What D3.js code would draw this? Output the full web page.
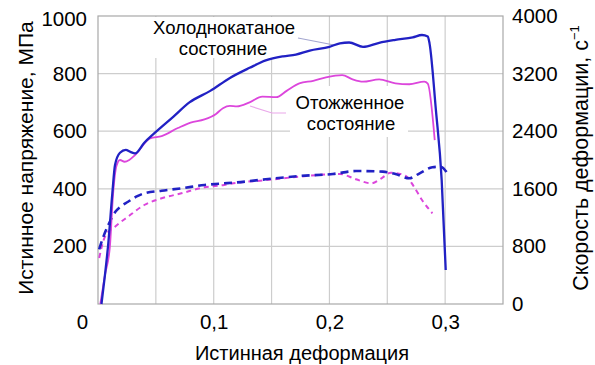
<!DOCTYPE html>
<html><head><meta charset="utf-8">
<script src="https://cdn.jsdelivr.net/npm/d3@7"></script>
<style>
html,body{margin:0;padding:0;background:#fff;}
svg{display:block;}
</style></head>
<body>
<svg id="chart" width="595" height="365"></svg>
<script>
// strain values and true stress (MPa) – cold-rolled state
const coldStress = [
  [0.003,0],[0.006,100],[0.0089,211],[0.0124,385],[0.0147,483],[0.019,525],[0.024,535],[0.028,528],
  [0.032,523],[0.04,560],[0.049,594],[0.065,650],[0.079,700],[0.097,740],[0.114,785],[0.131,820],
  [0.145,846],[0.16,860],[0.171,866],[0.183,880],[0.2,893],[0.209,905],[0.217,908],[0.229,893],
  [0.243,907],[0.257,917],[0.272,926],[0.28,934],[0.285,929],[0.2865,905],[0.292,674],[0.297,431],[0.3005,118]
];
// true stress (MPa) – annealed state
const annealedStress = [
  [0.002,0],[0.006,100],[0.0103,200],[0.013,380],[0.016,480],[0.019,500],[0.023,494],[0.027,500],
  [0.032,517],[0.045,575],[0.055,583],[0.069,611],[0.08,630],[0.092,641],[0.102,660],[0.108,680],
  [0.114,688],[0.12,686],[0.131,700],[0.142,720],[0.154,718],[0.163,740],[0.174,766],[0.186,775],
  [0.197,787],[0.211,795],[0.22,780],[0.229,772],[0.243,780],[0.257,766],[0.269,763],[0.282,772],
  [0.285,765],[0.291,569]
];
// strain rate (1/s) – cold-rolled state
const coldRate = [
  [0.001,760],[0.005,950],[0.009,1100],[0.015,1280],[0.02,1360],[0.026,1420],[0.033,1490],[0.04,1537],
  [0.055,1574],[0.072,1607],[0.092,1653],[0.109,1676],[0.117,1685],[0.145,1732],[0.174,1778],
  [0.203,1806],[0.223,1847],[0.246,1838],[0.257,1806],[0.269,1746],[0.278,1815],[0.289,1899],
  [0.296,1907],[0.302,1815]
];
// strain rate (1/s) – annealed state
const annealedRate = [
  [0.001,640],[0.006,935],[0.0147,1074],[0.026,1213],[0.04,1375],[0.055,1468],[0.072,1537],
  [0.092,1621],[0.109,1653],[0.117,1676],[0.145,1720],[0.174,1769],[0.209,1806],[0.223,1732],
  [0.236,1676],[0.245,1746],[0.253,1824],[0.266,1778],[0.273,1630],[0.280,1445],[0.289,1260]
];
const xTicks = [0, 0.1, 0.2, 0.3];
const xTickLabels = ["0", "0,1", "0,2", "0,3"];
const xGrid = [0.05, 0.1, 0.15, 0.2, 0.25, 0.3];
const yLeftTicks = [200, 400, 600, 800, 1000];
const yRightTicks = [0, 800, 1600, 2400, 3200, 4000];
const yGrid = [200, 400, 600, 800];
const xTitle = "Истинная деформация";
const yLeftTitle = "Истинное напряжение, МПа";
const yRightTitle = "Скорость деформации, с";
const labelCold = ["Холоднокатаное", "состояние"];
const labelAnnealed = ["Отожженное", "состояние"];

const FONT = "Liberation Sans, Arial, sans-serif";
const W = 595, H = 365;
const m = {left: 98, right: 92, top: 16, bottom: 61};
const svg = d3.select("#chart");
const x = d3.scaleLinear().domain([0, 0.35]).range([m.left, W - m.right]);
const yL = d3.scaleLinear().domain([0, 1000]).range([H - m.bottom, m.top]);
const yR = d3.scaleLinear().domain([0, 4000]).range([H - m.bottom, m.top]);

const blue = "#2121c4", pink = "#dc46dc";
const gridCol = "#cdcdcd", borderCol = "#a8a8a8";

svg.append("g").selectAll("line").data(xGrid).join("line")
  .attr("x1", d => x(d)).attr("x2", d => x(d))
  .attr("y1", yL(0)).attr("y2", yL(1000))
  .attr("stroke", gridCol).attr("stroke-width", 1.2);
svg.append("g").selectAll("line").data(yGrid).join("line")
  .attr("x1", x(0)).attr("x2", x(0.35))
  .attr("y1", d => yL(d)).attr("y2", d => yL(d))
  .attr("stroke", gridCol).attr("stroke-width", 1.2);
svg.append("rect").attr("x", x(0)).attr("y", yL(1000))
  .attr("width", x(0.35) - x(0)).attr("height", yL(0) - yL(1000))
  .attr("fill", "none").attr("stroke", borderCol).attr("stroke-width", 1.2);

svg.append("rect").attr("x", 150).attr("y", yL(1000) + 1).attr("width", 148).attr("height", 41).attr("fill", "#fff");
svg.append("rect").attr("x", 290).attr("y", 86).attr("width", 118).attr("height", 51).attr("fill", "#fff");

svg.append("path").attr("d", d3.line()([[298, 38], [334, 45]]))
  .attr("stroke", "#a3a6cf").attr("stroke-width", 1.2).attr("fill", "none");
svg.append("path").attr("d", d3.line()([[250, 106], [272, 113], [286, 113]]))
  .attr("stroke", "#eaa8ea").attr("stroke-width", 1.2).attr("fill", "none");

const lineL = d3.line().x(d => x(d[0])).y(d => yL(d[1])).curve(d3.curveMonotoneX);
const lineR = d3.line().x(d => x(d[0])).y(d => yR(d[1])).curve(d3.curveMonotoneX);
svg.append("path").datum(annealedRate).attr("d", lineR).attr("fill", "none")
  .attr("stroke", pink).attr("stroke-width", 2).attr("stroke-dasharray", "5,4");
svg.append("path").datum(coldRate).attr("d", lineR).attr("fill", "none")
  .attr("stroke", blue).attr("stroke-width", 2.6).attr("stroke-dasharray", "8,5");
svg.append("path").datum(annealedStress).attr("d", lineL).attr("fill", "none")
  .attr("stroke", pink).attr("stroke-width", 1.8);
svg.append("path").datum(coldStress).attr("d", lineL).attr("fill", "none")
  .attr("stroke", blue).attr("stroke-width", 2.3);

const fs = 20.5;
const ax = svg.append("g").attr("transform", `translate(0,${yL(0)})`)
  .call(d3.axisBottom(x).tickValues(xTicks).tickFormat((d, i) => xTickLabels[i]).tickSize(0).tickPadding(10));
const axL = svg.append("g").attr("transform", `translate(${x(0)},0)`)
  .call(d3.axisLeft(yL).tickValues(yLeftTicks).tickFormat(d3.format("d")).tickSize(0).tickPadding(11));
const axR = svg.append("g").attr("transform", `translate(${x(0.35)},0)`)
  .call(d3.axisRight(yR).tickValues(yRightTicks).tickFormat(d3.format("d")).tickSize(0).tickPadding(9));
[ax, axL, axR].forEach(g => {
  g.attr("font-family", FONT).attr("font-size", fs);
  g.select(".domain").remove();
  g.selectAll("text").style("font-family", FONT).attr("font-size", fs).attr("fill", "#000");
});
ax.selectAll(".tick").filter(d => d === 0).select("text").attr("x", -16);
axL.selectAll(".tick").filter(d => d === 1000).select("text").attr("y", 3);

svg.append("text").attr("x", 302).attr("y", 360).attr("text-anchor", "middle")
  .style("font-family", FONT).attr("font-size", 20).text(xTitle);
svg.append("text").attr("transform", `translate(33,158) rotate(-90)`).attr("text-anchor", "middle")
  .style("font-family", FONT).attr("font-size", 21).text(yLeftTitle);
const rt = svg.append("text").attr("transform", `translate(588,158) rotate(-90)`).attr("text-anchor", "middle")
  .style("font-family", FONT).attr("font-size", 21.5);
rt.append("tspan").text(yRightTitle);
rt.append("tspan").attr("font-size", 13).attr("dy", -9).text("−1");

const lfs = 18.5;
const lc = svg.append("text").attr("text-anchor", "middle").style("font-family", FONT).attr("font-size", lfs);
lc.append("tspan").attr("x", 224).attr("y", 34).text(labelCold[0]);
lc.append("tspan").attr("x", 223).attr("y", 55).text(labelCold[1]);
const la = svg.append("text").attr("text-anchor", "middle").style("font-family", FONT).attr("font-size", lfs);
la.append("tspan").attr("x", 350).attr("y", 109).text(labelAnnealed[0]);
la.append("tspan").attr("x", 351).attr("y", 130).text(labelAnnealed[1]);
</script>
</body></html>
